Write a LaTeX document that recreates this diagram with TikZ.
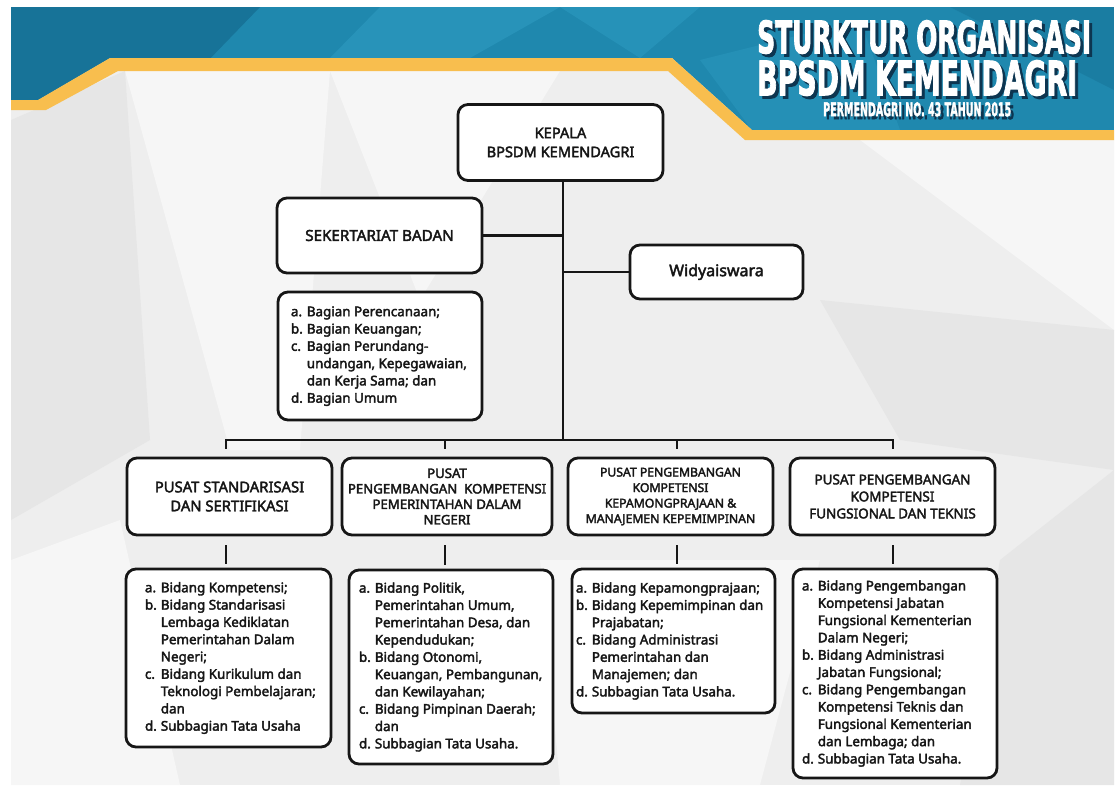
\documentclass[tikz,border=0pt]{standalone}
\usepackage{graphicx}
\usepackage{fontspec}
\setmainfont{Noto Sans}[FakeBold=2.6]
\newfontfamily\titlefont{DejaVu Sans}[FakeBold=2.5]
\usetikzlibrary{calc}

\definecolor{bannerblue}{HTML}{1F88AE}
\definecolor{bannerdark}{HTML}{177398}
\definecolor{bannerlight}{HTML}{2C99BF}
\definecolor{bandyellow}{HTML}{F8BE4E}
\definecolor{canvasgray}{HTML}{EEEEEE}
\definecolor{facetlight}{HTML}{F6F6F6}
\definecolor{facetdark}{HTML}{E6E6E6}
\definecolor{titleshadow}{HTML}{0D3550}
\definecolor{inkblack}{HTML}{161616}

% list with hanging labels
\newcommand\entries[1]{\begin{tabular}{@{}l@{\hspace{0.3em}}l@{}}#1\end{tabular}}
% heavy condensed title line with its dark drop shadow, stretched to width and cap height
\newcommand\titletext[3]{%
  \makebox[0pt][l]{\hspace{3pt}\raisebox{-3pt}{\color{titleshadow}\resizebox{#1}{#2}{\titlefont\bfseries #3}}}%
  \resizebox{#1}{#2}{\titlefont\bfseries #3}}

\tikzset{
  orgbox/.style={draw=inkblack, line width=2.8pt, rounded corners=10pt, fill=white,
    inner sep=0pt, align=center, text=inkblack},
  headbox/.style={orgbox, font=\fontsize{14.6}{19}\selectfont},
  listbox/.style={orgbox, inner ysep=0pt, font=\fontsize{13.4}{17.3}\selectfont},
  link/.style={draw=inkblack, line width=2.8pt},
  titleline/.style={anchor=north west, inner sep=0pt, text=white},
}

\begin{document}
\begin{tikzpicture}[x=1pt, y=-1pt]
\useasboundingbox (0,0) rectangle (1119,785);

% ---- canvas ----
\fill[white] (0,0) rectangle (1119,785);
\fill[canvasgray] (11,7) rectangle (1114,785);
\begin{scope}
  \clip (11,60) rectangle (1114,785);
  \fill[facetlight] (125,71) -- (330,71) -- (300,450) -- (230,450) -- cycle;
  \fill[facetlight] (330,71) -- (560,71) -- (420,300) -- cycle;
  \fill[facetdark] (11,120) -- (125,71) -- (150,440) -- (11,520) -- cycle;
  \fill[facetlight] (540,560) -- (820,560) -- (760,785) -- (560,785) -- cycle;
  \fill[facetdark] (1000,560) -- (1114,470) -- (1114,785) -- (960,785) -- cycle;
  \fill[facetlight] (860,140) -- (1114,140) -- (1114,330) -- cycle;
  \fill[facetdark] (820,300) -- (1114,330) -- (1114,470) -- (900,440) -- cycle;
  \fill[facetlight] (11,560) -- (120,520) -- (180,785) -- (11,785) -- cycle;
\end{scope}

% ---- banner ----
\begin{scope}
  \clip (11,7) -- (1114,7) -- (1114,130) -- (752,130) -- (672,58) -- (110,58)
        -- (38,100) -- (11,100) -- cycle;
  \fill[bannerblue] (11,7) rectangle (1114,140);
  \fill[bannerdark] (11,7) -- (260,7) -- (170,100) -- (11,100) -- cycle;
  \fill[bannerlight, opacity=0.7] (380,7) -- (560,7) -- (470,58) -- (330,58) -- cycle;
  \fill[bannerlight, opacity=0.6] (560,7) -- (700,7) -- (640,58) -- cycle;
  \fill[bannerdark, opacity=0.5] (950,7) -- (1114,7) -- (1114,90) -- cycle;
  \fill[bannerlight, opacity=0.5] (700,60) -- (860,20) -- (900,130) -- (752,130) -- cycle;
\end{scope}
\fill[bandyellow] (11,100) -- (38,100) -- (110,58) -- (672,58) -- (752,130)
  -- (1114,130) -- (1114,140) -- (745,140) -- (668,71) -- (118,71)
  -- (46,110) -- (11,110) -- cycle;

% ---- title ----
\node[titleline] (t1) at (757,20) {\titletext{334pt}{33pt}{STURKTUR ORGANISASI}};
\node[titleline] (t2) at (757,60) {\titletext{320pt}{35pt}{BPSDM KEMENDAGRI}};
\node[titleline] (t3) at (823,102) {\titletext{188pt}{14pt}{PERMENDAGRI NO. 43 TAHUN 2015}};

% ---- upper level ----
\node[headbox, minimum width=205pt, minimum height=76pt] (kepala) at (560.5,142.5)
  {KEPALA\\BPSDM KEMENDAGRI};
\node[headbox, font=\fontsize{15.2}{19}\selectfont, minimum width=205pt, minimum height=75pt]
  (sekre) at (379.5,235.5) {SEKERTARIAT BADAN};
\node[orgbox, font=\fontsize{16}{20}\selectfont, minimum width=173pt, minimum height=54pt]
  (widya) at (716.5,272) {Widyaiswara};
\node[listbox, minimum width=204pt, minimum height=128pt, inner xsep=13pt] (bagian) at (380,356)
  {\makebox[178pt][l]{\entries{
    a. & Bagian Perencanaan;\\
    b. & Bagian Keuangan;\\
    c. & Bagian Perundang-\\
       & undangan, Kepegawaian,\\
       & dan Kerja Sama; dan\\
    d. & Bagian Umum}}};

% ---- centres ----
\node[headbox, font=\fontsize{14.8}{19}\selectfont, minimum width=205pt, minimum height=77pt]
  (p1) at (229.5,496.5) {PUSAT STANDARISASI\\DAN SERTIFIKASI};
\node[orgbox, font=\fontsize{13.2}{15.5}\selectfont, minimum width=210pt, minimum height=77pt]
  (p2) at (447,496.5) {PUSAT\\PENGEMBANGAN\ \ KOMPETENSI\\PEMERINTAHAN DALAM\\NEGERI};
\node[orgbox, font=\fontsize{12.2}{15.5}\selectfont, minimum width=205pt, minimum height=77pt]
  (p3) at (670.5,496.5) {PUSAT PENGEMBANGAN\\KOMPETENSI\\KEPAMONGPRAJAAN \&\\MANAJEMEN KEPEMIMPINAN};
\node[orgbox, font=\fontsize{13.5}{17}\selectfont, minimum width=205pt, minimum height=77pt]
  (p4) at (892.5,496.5) {PUSAT PENGEMBANGAN\\KOMPETENSI\\FUNGSIONAL DAN TEKNIS};

% ---- units of each centre ----
\node[listbox, minimum width=205pt, minimum height=178pt, inner xsep=19pt] (l1) at (228.5,658)
  {\makebox[167pt][l]{\entries{
    a. & Bidang Kompetensi;\\
    b. & Bidang Standarisasi\\
       & Lembaga Kediklatan\\
       & Pemerintahan Dalam\\
       & Negeri;\\
    c. & Bidang Kurikulum dan\\
       & Teknologi Pembelajaran;\\
       & dan\\
    d. & Subbagian Tata Usaha}}};
\node[listbox, minimum width=204pt, minimum height=194pt, inner xsep=10pt] (l2) at (451,667)
  {\makebox[184pt][l]{\entries{
    a. & Bidang Politik,\\
       & Pemerintahan Umum,\\
       & Pemerintahan Desa, dan\\
       & Kependudukan;\\
    b. & Bidang Otonomi,\\
       & Keuangan, Pembangunan,\\
       & dan Kewilayahan;\\
    c. & Bidang Pimpinan Daerah;\\
       & dan\\
    d. & Subbagian Tata Usaha.}}};
\node[listbox, minimum width=203pt, minimum height=144pt, inner xsep=4pt] (l3) at (673.5,641)
  {\makebox[195pt][l]{\entries{
    a. & Bidang Kepamongprajaan;\\
    b. & Bidang Kepemimpinan dan\\
       & Prajabatan;\\
    c. & Bidang Administrasi\\
       & Pemerintahan dan\\
       & Manajemen; dan\\
    d. & Subbagian Tata Usaha.}}};
\node[listbox, minimum width=204pt, minimum height=209pt, inner xsep=9pt] (l4) at (895,673.5)
  {\makebox[186pt][l]{\entries{
    a. & Bidang Pengembangan\\
       & Kompetensi Jabatan\\
       & Fungsional Kementerian\\
       & Dalam Negeri;\\
    b. & Bidang Administrasi\\
       & Jabatan Fungsional;\\
    c. & Bidang Pengembangan\\
       & Kompetensi Teknis dan\\
       & Fungsional Kementerian\\
       & dan Lembaga; dan\\
    d. & Subbagian Tata Usaha.}}};

% ---- connectors ----
\coordinate (busmid) at (563,440);
\coordinate (d1) at (226,440);
\coordinate (d2) at (445,440);
\coordinate (d3) at (677,440);
\coordinate (d4) at (893,440);

\draw[link] (kepala.south -| busmid) -- (busmid);
\draw[link] (sekre.east) -- (sekre.east -| busmid);
\draw[link] (widya.west) -- (widya.west -| busmid);
\draw[link, shorten <=8pt, shorten >=8pt] (d1 |- p1.north) -- (d1) -- (d4) -- (d4 |- p4.north);
\draw[link, shorten >=8pt] (d2) -- (d2 |- p2.north);
\draw[link, shorten >=8pt] (d3) -- (d3 |- p3.north);

\draw[link, shorten <=9pt, shorten >=4pt] (p1.south -| d1) -- (l1.north -| d1);
\draw[link, shorten <=9pt, shorten >=4pt] (p2.south -| d2) -- (l2.north -| d2);
\draw[link, shorten <=9pt, shorten >=4pt] (p3.south -| d3) -- (l3.north -| d3);
\draw[link, shorten <=9pt, shorten >=4pt] (p4.south -| d4) -- (l4.north -| d4);
\end{tikzpicture}
\end{document}
